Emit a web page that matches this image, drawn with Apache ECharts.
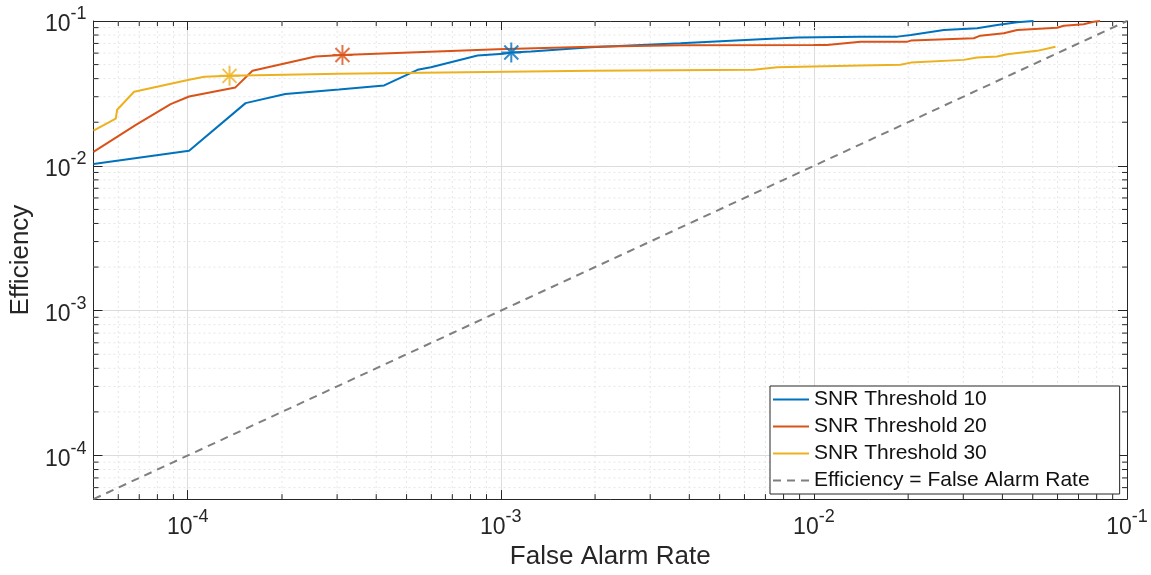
<!DOCTYPE html>
<html>
<head>
<meta charset="utf-8">
<script src="https://cdn.jsdelivr.net/npm/echarts@6/dist/echarts.min.js"></script>
<style>
  html, body { margin: 0; padding: 0; background: #fff; }
  #chart { width: 1151px; height: 575px; }
</style>
</head>
<body>
<div id="chart"></div>
<script>
// ROC-style efficiency curves on log-log axes
const FONT = '"Liberation Sans", Arial, Helvetica, sans-serif';
const X_MIN = 5e-5, X_MAX = 1e-1;
const Y_MIN = 5e-5, Y_MAX = 1e-1;

const seriesNames = ['SNR Threshold 10', 'SNR Threshold 20', 'SNR Threshold 30', 'Efficiency = False Alarm Rate'];
const seriesColors = ['#0072BD', '#D95319', '#EDB120', '#7f7f7f'];

// decade exponents that carry a label
const tickExponents = [-4, -3, -2, -1];

// SNR threshold 10
const snr10Far = [5e-5, 1.01e-4, 1.53e-4, 2.05e-4, 3.04e-4, 4.24e-4, 5.42e-4, 5.98e-4, 8.43e-4, 1.02e-3, 1.08e-3, 1.25e-3, 1.94e-3, 3.75e-3, 6.76e-3, 8.85e-3, 1.41e-2, 1.85e-2, 2.04e-2, 2.6e-2, 3.32e-2, 3.85e-2, 4.46e-2, 5.03e-2];
const snr10Eff = [0.0103, 0.0127, 0.0271, 0.0313, 0.0337, 0.0359, 0.046, 0.048, 0.0577, 0.0593, 0.0606, 0.0615, 0.0659, 0.0702, 0.0748, 0.0768, 0.078, 0.078, 0.0801, 0.0867, 0.0891, 0.0939, 0.098, 0.1];

// SNR threshold 20
const snr20Far = [5e-5, 6.83e-5, 8.82e-5, 1.01e-4, 1.42e-4, 1.61e-4, 2.56e-4, 3.12e-4, 9.76e-4, 1.94e-3, 3.75e-3, 9.98e-3, 1.10e-2, 1.41e-2, 1.99e-2, 2.04e-2, 3.24e-2, 3.40e-2, 4.04e-2, 4.46e-2, 5.98e-2, 6.28e-2, 7.27e-2, 7.83e-2, 8.2e-2];
const snr20Eff = [0.0125, 0.0192, 0.0267, 0.0301, 0.0348, 0.0453, 0.0568, 0.0583, 0.0639, 0.0665, 0.068, 0.0682, 0.0684, 0.072, 0.072, 0.0732, 0.076, 0.0792, 0.0823, 0.0867, 0.0899, 0.0928, 0.0949, 0.0989, 0.1];

// SNR threshold 30
const snr30Far = [5e-5, 5.89e-5, 5.95e-5, 6.74e-5, 1.01e-4, 1.13e-4, 1.36e-4, 3.04e-4, 1.94e-3, 6.42e-3, 7.64e-3, 1.41e-2, 1.89e-2, 2.04e-2, 3.01e-2, 3.32e-2, 3.85e-2, 4.14e-2, 5.16e-2, 5.91e-2];
const snr30Eff = [0.0175, 0.0212, 0.0244, 0.0325, 0.0393, 0.0412, 0.0418, 0.0432, 0.0453, 0.046, 0.048, 0.0493, 0.0498, 0.0516, 0.0539, 0.0559, 0.0568, 0.059, 0.0622, 0.0665];

// reference diagonal
const diagFar = [5e-5, 1e-1];
const diagEff = [5e-5, 1e-1];

// highlighted operating points (one per threshold)
const starFar = [1.08e-3, 3.12e-4, 1.36e-4];
const starEff = [0.0606, 0.0583, 0.0418];

// minor log ticks 2..9 x 10^k inside the axis range
const minorTicks = [];
for (let k = -5; k <= -2; k++) {
  for (let m = 2; m <= 9; m++) {
    const v = m * Math.pow(10, k);
    if (v > X_MIN * 1.0001 && v < X_MAX * 0.9999) minorTicks.push(v);
  }
}

const zip = (a, b) => a.map((v, i) => [v, b[i]]);

const AXIS_COLOR = '#262626';
const MAJOR_GRID = '#dcdcdc';
const MINOR_GRID = '#e6e6e6';

function powerLabel(v) {
  const e = Math.log10(v);
  const r = Math.round(e);
  if (Math.abs(e - r) > 1e-6 || tickExponents.indexOf(r) < 0) return '';
  return '{b|10}{s|' + r + '}';
}

const labelRich = {
  b: { fontFamily: FONT, fontSize: 23, color: AXIS_COLOR, lineHeight: 31, verticalAlign: 'bottom' },
  s: { fontFamily: FONT, fontSize: 18, color: AXIS_COLOR, lineHeight: 17, verticalAlign: 'top' }
};

function logAxis(extra) {
  return Object.assign({
    type: 'log',
    logBase: 10,
    axisLine: { show: true, lineStyle: { color: AXIS_COLOR, width: 1 } },
    axisTick: { show: true, inside: true, length: 9, lineStyle: { color: AXIS_COLOR, width: 1 } },
    splitLine: { show: false },
    axisLabel: { show: false }
  }, extra);
}

const star = 'path://M10,0L10,20M0,10L20,10M3,3L17,17M3,17L17,3';

function minorRender(dir) {
  return function (params, api) {
    const cs = params.coordSys;
    const v = api.value(dir === 'x' ? 0 : 1);
    const lineStyle = { stroke: MINOR_GRID, lineWidth: 1, lineDash: [2, 3] };
    const tickStyle = { stroke: AXIS_COLOR, lineWidth: 1 };
    if (dir === 'x') {
      const x = api.coord([v, Y_MAX])[0];
      const y0 = cs.y, y1 = cs.y + cs.height;
      return { type: 'group', children: [
        { type: 'line', shape: { x1: x, y1: y0, x2: x, y2: y1 }, style: lineStyle },
        { type: 'line', shape: { x1: x, y1: y1, x2: x, y2: y1 - 5 }, style: tickStyle },
        { type: 'line', shape: { x1: x, y1: y0, x2: x, y2: y0 + 5 }, style: tickStyle }
      ] };
    }
    const y = api.coord([X_MAX, v])[1];
    const x0 = cs.x, x1 = cs.x + cs.width;
    return { type: 'group', children: [
      { type: 'line', shape: { x1: x0, y1: y, x2: x1, y2: y }, style: lineStyle },
      { type: 'line', shape: { x1: x0, y1: y, x2: x0 + 5, y2: y }, style: tickStyle },
      { type: 'line', shape: { x1: x1, y1: y, x2: x1 - 5, y2: y }, style: tickStyle }
    ] };
  };
}

const chart = echarts.init(document.getElementById('chart'), null, { renderer: 'canvas' });

const lineSeries = [snr10Far, snr20Far, snr30Far].map((xs, i) => ({
  name: seriesNames[i],
  type: 'line',
  data: zip(xs, [snr10Eff, snr20Eff, snr30Eff][i]),
  symbol: 'none',
  lineStyle: { color: seriesColors[i], width: 2 },
  itemStyle: { color: seriesColors[i] },
  z: 3,
  animation: false
}));

const option = {
  animation: false,
  backgroundColor: '#fff',
  textStyle: { fontFamily: FONT },
  grid: { left: 92, right: 24, top: 21, bottom: 74, containLabel: false },
  xAxis: [
    logAxis({
      min: X_MIN, max: X_MAX, position: 'bottom',
      name: 'False Alarm Rate', nameLocation: 'middle', nameGap: 40,
      nameTextStyle: { fontFamily: FONT, fontSize: 26, color: AXIS_COLOR },
      splitLine: { show: true, lineStyle: { color: MAJOR_GRID, width: 1 } },
      axisLabel: { show: true, margin: 9, formatter: powerLabel, rich: labelRich }
    }),
    logAxis({ min: X_MIN, max: X_MAX, position: 'top' })
  ],
  yAxis: [
    logAxis({
      min: Y_MIN, max: Y_MAX, position: 'left',
      name: 'Efficiency', nameLocation: 'middle', nameGap: 58, nameRotate: 90,
      nameTextStyle: { fontFamily: FONT, fontSize: 26, color: AXIS_COLOR },
      splitLine: { show: true, lineStyle: { color: MAJOR_GRID, width: 1 } },
      axisLabel: { show: true, margin: 7, formatter: powerLabel, rich: labelRich }
    }),
    logAxis({ min: Y_MIN, max: Y_MAX, position: 'right' })
  ],
  legend: {
    orient: 'vertical',
    left: 770,
    top: 386,
    itemWidth: 36,
    itemHeight: 14,
    itemGap: 6,
    padding: [3, 30, 3, 2],
    backgroundColor: '#fff',
    borderColor: AXIS_COLOR,
    borderWidth: 1,
    selectedMode: false,
    itemStyle: { opacity: 0 },
    textStyle: { fontFamily: FONT, fontSize: 21, color: '#111' },
    data: seriesNames.map(n => ({ name: n }))
  },
  series: [
    {
      name: 'minorX', type: 'custom', silent: true, z: 1,
      data: minorTicks.map(v => [v, Y_MAX]),
      renderItem: minorRender('x'), animation: false
    },
    {
      name: 'minorY', type: 'custom', silent: true, z: 1,
      data: minorTicks.map(v => [X_MAX, v]),
      renderItem: minorRender('y'), animation: false
    },
    ...lineSeries,
    {
      name: seriesNames[3],
      type: 'line',
      data: zip(diagFar, diagEff),
      symbol: 'none',
      lineStyle: { color: seriesColors[3], width: 2, type: [8, 6] },
      itemStyle: { color: seriesColors[3] },
      z: 3,
      animation: false
    },
    ...starFar.map((x, i) => ({
      name: 'marker' + i,
      type: 'scatter',
      data: [[x, starEff[i]]],
      symbol: star,
      symbolSize: 20,
      itemStyle: { color: 'none', borderColor: seriesColors[i], borderWidth: 2 },
      z: 4,
      silent: true,
      animation: false
    }))
  ]
};

chart.setOption(option);
</script>
</body>
</html>
